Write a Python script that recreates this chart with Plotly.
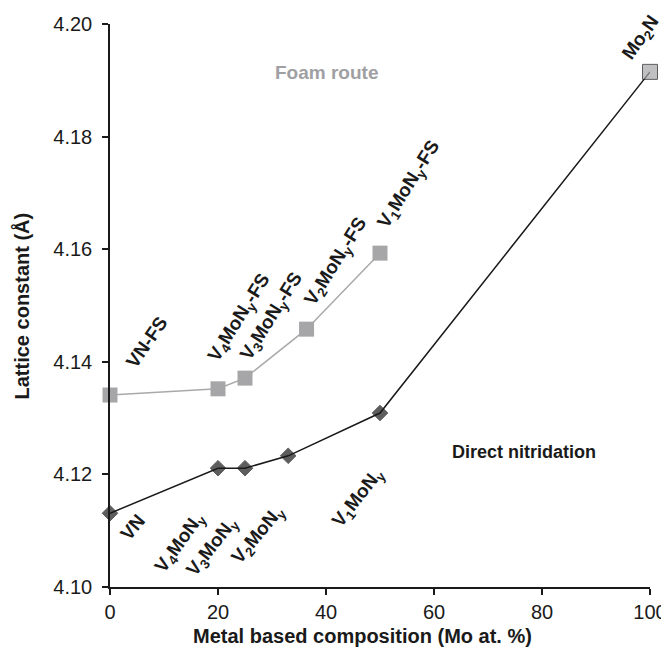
import plotly.graph_objects as go

# Direct nitridation series (black diamonds; Mo2N endpoint drawn as gray square)
direct_x = [0, 20, 25, 33, 50, 100]
direct_y = [4.1131, 4.1211, 4.1211, 4.1233, 4.1309, 4.1915]

# Foam route series (gray squares)
foam_x = [0, 20, 25, 36.4, 50]
foam_y = [4.1341, 4.1352, 4.1371, 4.1458, 4.1593]

x_ticks = [0, 20, 40, 60, 80, 100]
y_ticks = [4.10, 4.12, 4.14, 4.16, 4.18, 4.20]

# Rotated sample labels: (text, x, y, angle)
foam_labels = [
    ("VN-FS", 6.7, 4.1435, -55),
    ("V<sub>4</sub>MoN<sub>y</sub>-FS", 24.0, 4.1478, -58),
    ("V<sub>3</sub>MoN<sub>y</sub>-FS", 30.0, 4.1479, -58),
    ("V<sub>2</sub>MoN<sub>y</sub>-FS", 41.9, 4.1577, -58),
    ("V<sub>1</sub>MoN<sub>y</sub>-FS", 55.4, 4.1714, -58),
]
direct_labels = [
    ("VN", 4.2, 4.1105, -50),
    ("V<sub>4</sub>MoN<sub>y</sub>", 13.0, 4.1078, -54),
    ("V<sub>3</sub>MoN<sub>y</sub>", 19.0, 4.1071, -52),
    ("V<sub>2</sub>MoN<sub>y</sub>", 27.5, 4.1092, -50),
    ("V<sub>1</sub>MoN<sub>y</sub>", 46.0, 4.1158, -52),
    ("Mo<sub>2</sub>N", 98.4, 4.1975, -55),
]

GRAY = "#a6a6a9"
LINEGRAY = "#a9a9a9"
INK = "#1a1a1a"
FONT = "Liberation Sans, Arial, sans-serif"

fig = go.Figure()

fig.add_trace(go.Scatter(
    x=foam_x, y=foam_y, mode="lines+markers",
    line=dict(color=LINEGRAY, width=1.5),
    marker=dict(symbol="square", size=15, color=GRAY),
    cliponaxis=False, showlegend=False,
))

n = len(direct_x)
fig.add_trace(go.Scatter(
    x=direct_x, y=direct_y, mode="lines+markers",
    line=dict(color=INK, width=1.5),
    marker=dict(
        symbol=["diamond"] * (n - 1) + ["square"],
        size=[12] * (n - 1) + [15],
        color=[INK] * (n - 1) + [GRAY],
    ),
    cliponaxis=False, showlegend=False,
))

annotations = []
for t, x, y, a in foam_labels + direct_labels:
    annotations.append(dict(
        x=x, y=y, xref="x", yref="y", text="<b>" + t + "</b>",
        showarrow=False, textangle=a,
        font=dict(family=FONT, size=19, color=INK),
    ))
annotations.append(dict(
    x=40.0, y=4.1913, xref="x", yref="y", text="<b>Foam route</b>",
    showarrow=False, font=dict(family=FONT, size=19, color="#a0a0a3"),
))
annotations.append(dict(
    x=76.7, y=4.1239, xref="x", yref="y", text="<b>Direct nitridation</b>",
    showarrow=False, font=dict(family=FONT, size=18, color=INK),
))
# axis titles
annotations.append(dict(
    x=0.467, y=-0.087, xref="paper", yref="paper",
    xanchor="center", yanchor="middle",
    text="<b>Metal based composition (Mo at. %)</b>", showarrow=False,
    font=dict(family=FONT, size=20, color=INK),
))
annotations.append(dict(
    x=-0.163, y=0.5, xref="paper", yref="paper",
    xanchor="center", yanchor="middle",
    text="<b>Lattice constant (Å)</b>", showarrow=False, textangle=-90,
    font=dict(family=FONT, size=20, color=INK),
))

# page body adds an 8px margin; size the figure so the plot lands where the reference has it
fig.update_layout(
    width=661, height=645,
    margin=dict(l=102, r=19, t=16, b=66),
    paper_bgcolor="white", plot_bgcolor="white",
    font=dict(family=FONT, color=INK),
    annotations=annotations,
)

fig.update_xaxes(
    range=[0, 100], tickvals=x_ticks, ticktext=[str(v) for v in x_ticks],
    showgrid=False, zeroline=False, automargin=False,
    showline=True, linecolor=INK, linewidth=1.5,
    ticks="outside", ticklen=6, tickwidth=1.5, tickcolor=INK,
    tickfont=dict(size=20, family=FONT, color=INK),
)
fig.update_yaxes(
    range=[4.10, 4.20], tickvals=y_ticks, ticktext=["%.2f" % v for v in y_ticks],
    showgrid=False, zeroline=False, automargin=False,
    showline=True, linecolor=INK, linewidth=1.5,
    ticks="outside", ticklen=6, tickwidth=1.5, tickcolor=INK,
    ticklabelstandoff=6,
    tickfont=dict(size=20, family=FONT, color=INK),
)

fig.write_html("out.html")
